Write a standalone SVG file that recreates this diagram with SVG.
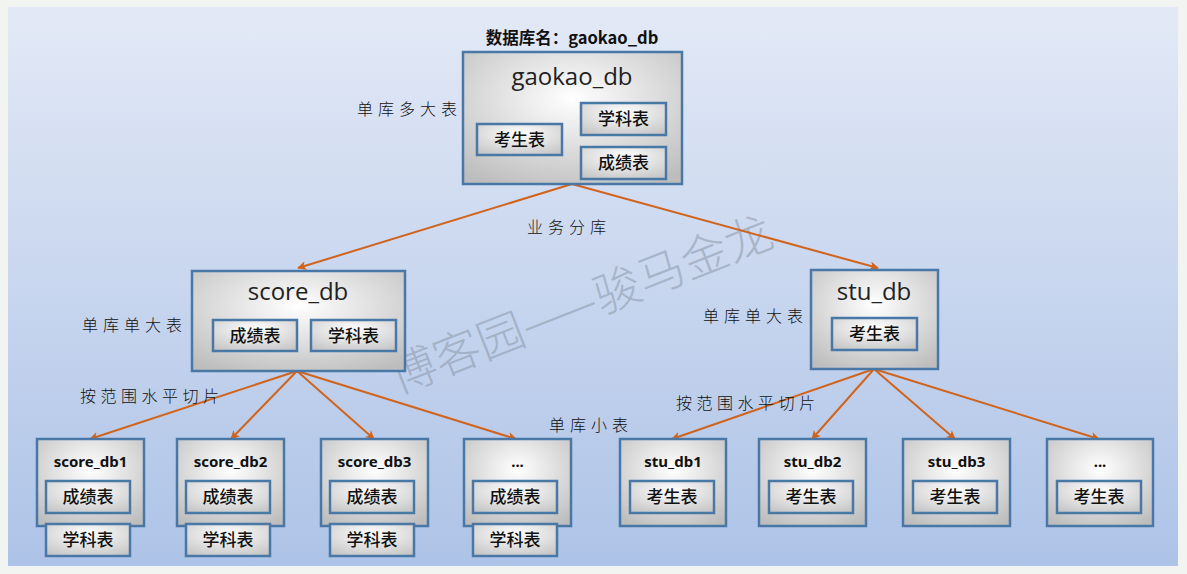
<svg xmlns="http://www.w3.org/2000/svg" width="1187" height="574" viewBox="0 0 1187 574">
<defs>
<linearGradient id="bg" x1="0" y1="0" x2="0" y2="1">
<stop offset="0" stop-color="#e3e9f6"/>
<stop offset="1" stop-color="#adc3e7"/>
</linearGradient>
<radialGradient id="box" cx="0.5" cy="0.35" r="0.75">
<stop offset="0" stop-color="#ffffff"/>
<stop offset="1" stop-color="#bdbdbd"/>
</radialGradient>
<radialGradient id="ibox" cx="0.5" cy="0.3" r="0.8">
<stop offset="0" stop-color="#ffffff"/>
<stop offset="1" stop-color="#c4c4c4"/>
</radialGradient>
<marker id="ah" viewBox="0 0 10 10" refX="9" refY="5" markerWidth="10" markerHeight="9" orient="auto" markerUnits="userSpaceOnUse" style="overflow:visible">
<path d="M0,0 L10,5 L0,10 L2.5,5 Z" fill="#d1641c"/>
</marker>
</defs>
<style>
.b{fill:url(#box);stroke:#4a78a6;stroke-width:2.5}
.i{fill:url(#ibox);stroke:#4a78a6;stroke-width:2.5}
.t{font-family:"Open Sans","Noto Sans",sans-serif;font-size:24px;fill:#222;text-anchor:middle}
.s{font-family:"Noto Sans","Noto Sans CJK SC",sans-serif;font-size:15px;font-weight:bold;fill:#111;text-anchor:middle}
.c{font-family:"Noto Sans CJK SC",sans-serif;font-size:17px;font-weight:500;fill:#111;text-anchor:middle}
.l{font-family:"Noto Sans CJK SC",sans-serif;font-size:16px;font-weight:300;fill:#111;letter-spacing:5px}
.a{fill:none;stroke:#d1641c;stroke-width:2;marker-end:url(#ah)}
</style>
<rect width="1187" height="574" fill="#f2f4f2"/>
<rect x="8" y="7" width="1170" height="559" fill="url(#bg)"/>
<text x="587" y="320" transform="rotate(-21.5 587 320)" font-family="Noto Sans CJK SC,sans-serif" font-size="47" font-weight="300" fill="#8a96a8" fill-opacity="0.55" text-anchor="middle">博客园——骏马金龙</text>

<g id="connectors">
<line class="a" x1="572" y1="184" x2="298" y2="268"/>
<line class="a" x1="572" y1="184" x2="878" y2="268"/>
<line class="a" x1="297" y1="371" x2="90" y2="439"/>
<line class="a" x1="297" y1="371" x2="231" y2="439"/>
<line class="a" x1="297" y1="371" x2="374" y2="439"/>
<line class="a" x1="297" y1="371" x2="516" y2="439"/>
<line class="a" x1="874" y1="369" x2="672" y2="439"/>
<line class="a" x1="874" y1="369" x2="812" y2="439"/>
<line class="a" x1="874" y1="369" x2="955" y2="439"/>
<line class="a" x1="874" y1="369" x2="1099" y2="439"/>
</g>

<g id="labels">
<text x="572" y="44" font-family="Noto Sans CJK SC,sans-serif" font-size="16.5" font-weight="bold" fill="#111" text-anchor="middle">数据库名：gaokao_db</text>
<text class="l" x="357" y="115">单库多大表</text>
<text class="l" x="527" y="233">业务分库</text>
<text class="l" x="82" y="331">单库单大表</text>
<text class="l" x="703" y="322">单库单大表</text>
<text class="l" x="80" y="402" style="letter-spacing:4.5px">按范围水平切片</text>
<text class="l" x="676" y="409" style="letter-spacing:4.5px">按范围水平切片</text>
<text class="l" x="549" y="431">单库小表</text>
</g>

<g id="gaokao_db">
<rect class="b" x="463" y="52" width="219" height="132"/>
<text class="t" x="572" y="85">gaokao_db</text>
<rect class="i" x="477" y="124" width="85" height="31"/><text class="c" x="519.5" y="146">考生表</text>
<rect class="i" x="581" y="103" width="85" height="32"/><text class="c" x="623.5" y="125">学科表</text>
<rect class="i" x="581" y="147" width="85" height="32"/><text class="c" x="623.5" y="169">成绩表</text>
</g>

<g id="score_db">
<rect class="b" x="192" y="271" width="213" height="100"/>
<text class="t" x="298" y="300">score_db</text>
<rect class="i" x="213" y="320" width="84" height="31"/><text class="c" x="255" y="342">成绩表</text>
<rect class="i" x="311" y="320" width="85" height="31"/><text class="c" x="353.5" y="342">学科表</text>
</g>

<g id="stu_db">
<rect class="b" x="811" y="270" width="127" height="99"/>
<text class="t" x="874" y="300">stu_db</text>
<rect class="i" x="832" y="318" width="85" height="32"/><text class="c" x="874.5" y="340">考生表</text>
</g>

<g id="score_db1">
<rect class="b" x="37" y="439" width="107" height="87"/>
<text class="s" x="90.5" y="467">score_db1</text>
<rect class="i" x="46" y="481" width="84" height="32"/><text class="c" x="88" y="503">成绩表</text>
<rect class="i" x="46" y="524" width="84" height="32"/><text class="c" x="88" y="546">学科表</text>
</g>
<g id="score_db2">
<rect class="b" x="177" y="439" width="107" height="87"/>
<text class="s" x="230.5" y="467">score_db2</text>
<rect class="i" x="186" y="481" width="84" height="32"/><text class="c" x="228" y="503">成绩表</text>
<rect class="i" x="186" y="524" width="84" height="32"/><text class="c" x="228" y="546">学科表</text>
</g>
<g id="score_db3">
<rect class="b" x="321" y="439" width="107" height="87"/>
<text class="s" x="374.5" y="467">score_db3</text>
<rect class="i" x="330" y="481" width="84" height="32"/><text class="c" x="372" y="503">成绩表</text>
<rect class="i" x="330" y="524" width="84" height="32"/><text class="c" x="372" y="546">学科表</text>
</g>
<g id="score_more">
<rect class="b" x="464" y="439" width="107" height="87"/>
<text class="s" x="517.5" y="467">...</text>
<rect class="i" x="473" y="481" width="84" height="32"/><text class="c" x="515" y="503">成绩表</text>
<rect class="i" x="473" y="524" width="84" height="32"/><text class="c" x="515" y="546">学科表</text>
</g>

<g id="stu_db1">
<rect class="b" x="620" y="439" width="106" height="87"/>
<text class="s" x="673" y="467">stu_db1</text>
<rect class="i" x="630" y="481" width="84" height="32"/><text class="c" x="672" y="503">考生表</text>
</g>
<g id="stu_db2">
<rect class="b" x="759" y="439" width="107" height="87"/>
<text class="s" x="812.5" y="467">stu_db2</text>
<rect class="i" x="769" y="481" width="84" height="32"/><text class="c" x="811" y="503">考生表</text>
</g>
<g id="stu_db3">
<rect class="b" x="903" y="439" width="107" height="87"/>
<text class="s" x="956.5" y="467">stu_db3</text>
<rect class="i" x="913" y="481" width="84" height="32"/><text class="c" x="955" y="503">考生表</text>
</g>
<g id="stu_more">
<rect class="b" x="1047" y="439" width="106" height="87"/>
<text class="s" x="1100" y="467">...</text>
<rect class="i" x="1057" y="481" width="84" height="32"/><text class="c" x="1099" y="503">考生表</text>
</g>
</svg>
